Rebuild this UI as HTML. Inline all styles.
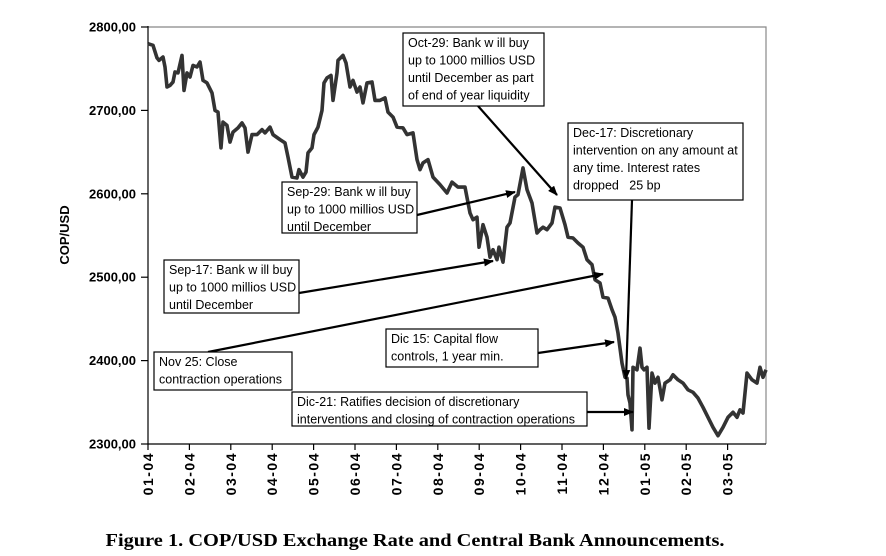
<!DOCTYPE html>
<html><head><meta charset="utf-8"><style>
body{margin:0;background:#fff}
svg{display:block;font-family:"Liberation Sans",Arial,sans-serif}
.ann{font-size:12.5px;fill:#000;white-space:pre}
</style></head><body>
<svg id="chart" width="886" height="556" viewBox="0 0 886 556" xmlns="http://www.w3.org/2000/svg">
<defs><marker id="ah" markerWidth="10" markerHeight="8" refX="9" refY="4" orient="auto" markerUnits="userSpaceOnUse"><path d="M0,0 L10,4 L0,8 z" fill="#000"/></marker></defs>
<g id="axes"></g>
<g id="series"></g>
<g id="annotations"></g>
<text x="0" y="0" transform="translate(69,235) rotate(-90)" text-anchor="middle" font-size="13" font-weight="bold">COP/USD</text>
<text x="415" y="546" text-anchor="middle" font-family="Liberation Serif,serif" font-size="18" font-weight="bold" textLength="619" lengthAdjust="spacingAndGlyphs">Figure 1. COP/USD Exchange Rate and Central Bank Announcements.</text>
</svg>
<script>
// months since Jan 2004 (chart's x units)
const months=[-0.1,0.025,0.125,0.175,0.275,0.325,0.375,0.45,0.525,0.575,0.65,0.75,0.8,0.875,0.95,1.025,1.125,1.2,1.275,1.375,1.5,1.575,1.65,1.725,1.775,1.875,1.95,2.025,2.15,2.25,2.325,2.4,2.5,2.625,2.75,2.825,2.95,3.025,3.2,3.325,3.4,3.5,3.625,3.675,3.775,3.85,3.9,4.0,4.05,4.15,4.25,4.3,4.375,4.475,4.525,4.625,4.65,4.775,4.85,4.95,5.025,5.125,5.2,5.275,5.375,5.5,5.575,5.7,5.825,5.9,6.025,6.125,6.275,6.375,6.525,6.625,6.7,6.775,6.9,7.025,7.2,7.375,7.5,7.65,7.825,7.95,8.025,8.125,8.175,8.275,8.375,8.45,8.525,8.625,8.675,8.775,8.875,8.95,9.075,9.15,9.275,9.375,9.5,9.625,9.7,9.775,9.875,10.0,10.075,10.2,10.325,10.4,10.525,10.65,10.775,10.875,11.0,11.075,11.2,11.275,11.4,11.5,11.575,11.65,11.75,11.825,11.875,11.9,11.95,12.0,12.025,12.125,12.2,12.25,12.3,12.375,12.425,12.5,12.575,12.65,12.75,12.825,12.95,13.025,13.15,13.275,13.4,13.525,13.65,13.775,13.9,14.025,14.15,14.275,14.4,14.525,14.625,14.7,14.775,14.875,15.0,15.125,15.2,15.275,15.35];
const rates=[2780,2778,2763,2760,2764,2752,2728,2730,2734,2746,2745,2766,2724,2745,2740,2754,2752,2758,2736,2733,2721,2700,2698,2655,2686,2682,2662,2674,2679,2685,2679,2650,2671,2671,2677,2673,2680,2671,2665,2661,2644,2620,2619,2629,2620,2626,2649,2655,2671,2680,2700,2733,2739,2742,2712,2745,2760,2766,2757,2728,2736,2722,2728,2709,2733,2734,2712,2712,2715,2698,2692,2680,2679,2671,2673,2641,2629,2637,2641,2620,2611,2601,2614,2608,2608,2577,2569,2572,2536,2563,2548,2524,2533,2521,2536,2518,2560,2565,2596,2599,2631,2605,2589,2553,2557,2560,2557,2565,2584,2583,2563,2548,2547,2541,2536,2521,2515,2497,2493,2476,2475,2461,2452,2433,2397,2380,2379,2359,2349,2317,2392,2389,2415,2392,2389,2392,2319,2385,2373,2380,2353,2373,2377,2383,2377,2373,2365,2362,2355,2344,2332,2320,2310,2320,2332,2338,2332,2341,2337,2385,2377,2373,2392,2380,2389];
const yTicks=[2300,2400,2500,2600,2700,2800];
const yTickLabels=["2300,00","2400,00","2500,00","2600,00","2700,00","2800,00"];
const xTickLabels=["01-04","02-04","03-04","04-04","05-04","06-04","07-04","08-04","09-04","10-04","11-04","12-04","01-05","02-05","03-05"];

const NS="http://www.w3.org/2000/svg";
const L=148,R=766,T=27,B=444;
function xScale(m){return 152+40*m;}
function yScale(v){return B-(v-2300)/500*(B-T);}
function tickX(i){return L+i*41.4;}
function mk(tag,attrs,parent){const e=document.createElementNS(NS,tag);for(const k in attrs)e.setAttribute(k,attrs[k]);parent.appendChild(e);return e;}

const axes=document.getElementById('axes');
let e=mk('path',{d:`M${L},${T} H${R} V${B}`,fill:'none',stroke:'#888','stroke-width':1.2},axes);


e=mk('line',{x1:L,y1:T-1,x2:L,y2:B,stroke:'#000','stroke-width':1.2},axes);


e=mk('line',{x1:L,y1:B,x2:R,y2:B,stroke:'#000','stroke-width':1.2},axes);


yTicks.forEach((v,i)=>{
  const y=yScale(v);
  const t=mk('line',{x1:L-7,y1:y,x2:L,y2:y,stroke:'#000','stroke-width':1.2},axes);
  
  
  const tx=mk('text',{x:136,y:y+4.5,'text-anchor':'end','font-size':13,'font-weight':'bold'},axes);
  tx.textContent=yTickLabels[i];
  
  
});
xTickLabels.forEach((lab,i)=>{
  const x=tickX(i);
  const t=mk('line',{x1:x,y1:B,x2:x,y2:B+6,stroke:'#000','stroke-width':1.2},axes);
  
  
  const tx=mk('text',{x:0,y:0,transform:`translate(${x+5},452) rotate(-90)`,'text-anchor':'end','font-size':14,'font-weight':'bold','letter-spacing':'1.5'},axes);
  tx.textContent=lab;
  
  
});

const series=document.getElementById('series');
const d=months.map((m,i)=>(i?'L':'M')+xScale(m).toFixed(1)+','+yScale(rates[i]).toFixed(1)).join(' ');
const line=mk('path',{d:d,fill:'none',stroke:'#333','stroke-width':3.6,'stroke-linejoin':'round'},series);



const anns=[
 {name:'oct-29-note',box:[403,33,141,73],lines:["Oct-29: Bank w ill buy","up to 1000 millios USD","until December as part","of end of year liquidity"],arrow:[478,106,557,195]},
 {name:'dec-17-note',box:[568,123,175,77],lines:["Dec-17: Discretionary","intervention on any amount at","any time. Interest rates","dropped   25 bp"],arrow:[632,200,626,379]},
 {name:'sep-29-note',box:[282,182,135,51],lines:["Sep-29: Bank w ill buy","up to 1000 millios USD","until December"],arrow:[417,215,515,192]},
 {name:'sep-17-note',box:[164,260,135,53],lines:["Sep-17: Bank w ill buy","up to 1000 millios USD","until December"],arrow:[299,293,493,261]},
 {name:'nov-25-note',box:[154,352,138,38],lines:["Nov 25: Close","contraction operations"],arrow:[208,352,603,274]},
 {name:'dic-15-note',box:[386,329,152,38],lines:["Dic 15: Capital flow","controls, 1 year min."],arrow:[538,353,614,342]},
 {name:'dic-21-note',box:[292,392,295,34],lines:["Dic-21: Ratifies decision of discretionary","interventions and closing of contraction operations"],arrow:[587,412,633,412]}
];
const ag=document.getElementById('annotations');
anns.forEach(a=>{
  const g=mk('g',{},ag);
  
  
  const ar=mk('line',{x1:a.arrow[0],y1:a.arrow[1],x2:a.arrow[2],y2:a.arrow[3],stroke:'#000','stroke-width':2.2,'marker-end':'url(#ah)'},g);
  
  
  const r=mk('rect',{x:a.box[0],y:a.box[1],width:a.box[2],height:a.box[3],fill:'#fff',stroke:'#000','stroke-width':1.2},g);
  
  
  a.lines.forEach((s,i)=>{
    const t=mk('text',{x:a.box[0]+5,y:a.box[1]+14+i*17.5,class:'ann'},g);
    t.textContent=s;
    
    
  });
});
</script>
</body></html>
